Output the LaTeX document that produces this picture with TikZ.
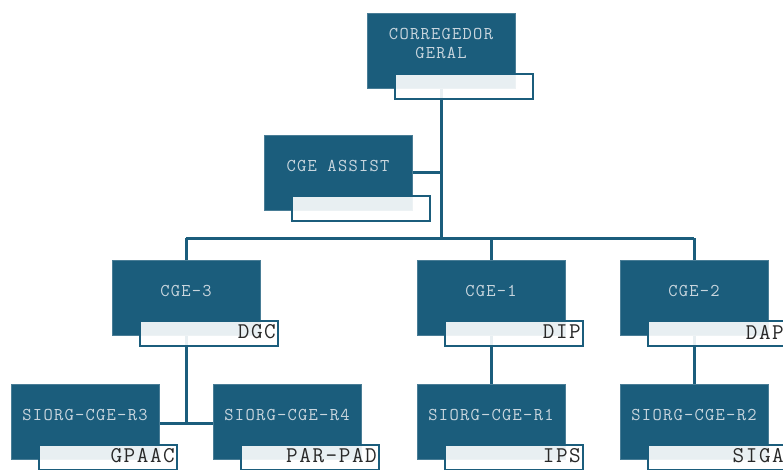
\documentclass[tikz,border=0pt]{standalone}
\usepackage{fontspec}
\newfontfamily\topfont[LetterSpace=7]{Latin Modern Mono}
\newfontfamily\subfont[LetterSpace=7]{Latin Modern Mono}
\usetikzlibrary{calc,backgrounds}
\definecolor{orgblue}{RGB}{27,93,124}
\definecolor{orgtext}{RGB}{201,214,222}
\definecolor{subgray}{RGB}{40,40,40}
\tikzset{
  darkbox/.style={rectangle, fill=orgblue, draw=orgblue!80!white, line width=0.6pt, minimum width=148pt, minimum height=75pt, inner sep=0pt, outer sep=0pt},
  whitebox/.style={rectangle, fill=white, fill opacity=0.9, draw=orgblue, draw opacity=1, line width=2.4pt, minimum width=138pt, minimum height=25pt, inner sep=0pt, outer sep=0pt},
  toptext/.style={text=orgtext, font=\topfont\fontsize{18}{19}\selectfont, align=center, inner sep=0pt},
  subtext/.style={text=subgray, font=\subfont\fontsize{22.5}{22}\selectfont, inner sep=0pt},
  conn/.style={draw=orgblue, line width=3pt}
}
\newcommand\orgunit[5]{%
  \node[darkbox, anchor=north west] (#1) at (#2,#3) {};
  \node[whitebox, anchor=north west] (#1w) at ($(#1.north west)+(28,61)$) {};
  \node[toptext] (#1t) at ($(#1.north)!0.5!(#1.north |- #1w.north)$) {#4};
  \node[subtext, anchor=east] (#1s) at ($(#1w.east)+(-2,-1.5)$) {#5};
}
\begin{document}
\begin{tikzpicture}[x=1pt,y=-1pt]
\useasboundingbox (0,0) rectangle (783,469);
\clip (0,0) rectangle (783,469);
\orgunit{cg}{367}{13}{CORREGEDOR\\GERAL}{}
\orgunit{as}{264}{135}{CGE ASSIST}{}
\orgunit{cthree}{112}{260}{CGE-3}{DGC}
\orgunit{cone}{417}{260}{CGE-1}{DIP}
\orgunit{ctwo}{620}{260}{CGE-2}{DAP}
\orgunit{rthree}{11}{384}{SIORG-CGE-R3}{GPAAC}
\orgunit{rfour}{213}{384}{SIORG-CGE-R4}{PAR-PAD}
\orgunit{rone}{417}{384}{SIORG-CGE-R1}{IPS}
\orgunit{rtwo}{620}{384}{SIORG-CGE-R2}{SIGA}
\coordinate (bar) at ($(cg.south)+(0,150)$);
\coordinate (barL) at (cthree.north |- bar);
\coordinate (barR) at (ctwo.north |- bar);
\coordinate (rjoin) at ($(cthree.south)+(0,88)$);
\begin{scope}[on background layer]
  \draw[conn] (cg.center) -- (bar);
  \draw[conn] (as.east |- as.center) -- (as.center -| cg.center);
  \draw[conn] (barL) -- (barR);
  \draw[conn] (barL) -- (cthree.center);
  \draw[conn] (cone.north |- bar) -- (cone.center);
  \draw[conn] (barR) -- (ctwo.center);
  \draw[conn] (cthree.center) -- (rjoin);
  \draw[conn] (rthree.east |- rjoin) -- (rfour.west |- rjoin);
  \draw[conn] (cone.center) -- (rone.center);
  \draw[conn] (ctwo.center) -- (rtwo.center);
\end{scope}
\end{tikzpicture}
\end{document}
